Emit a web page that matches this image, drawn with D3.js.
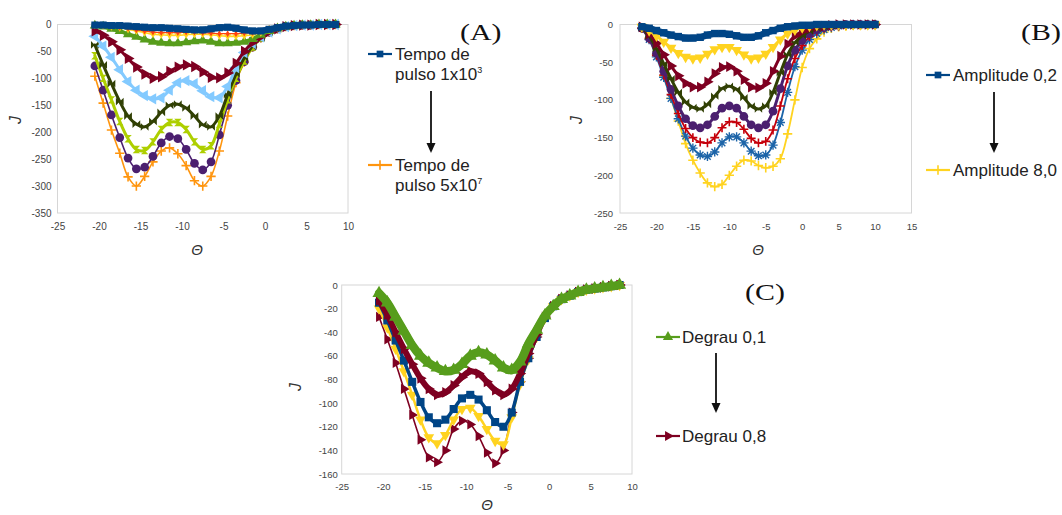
<!DOCTYPE html>
<html><head><meta charset="utf-8">
<script src="https://cdn.jsdelivr.net/npm/d3@7"></script>
<style>body{margin:0;background:#fff;} svg{display:block;}</style>
</head><body>
<svg id="c" width="1062" height="515"></svg>
<script>
// ---------------- DATA ----------------
// Panel A: x (Theta) values and J series
const thetaA = [-20.5,-19.5,-18.5,-17.5,-16.5,-15.5,-14.5,-13.5,-12.5,-11.5,-10.5,-9.5,-8.5,-7.5,-6.5,-5.5,-4.5,-3.5,-2.5,-1.5,-0.5,0.5,1.5,2.5,3.5,4.5,5.5,6.5,7.5,8.5];
const A_s1  = [-1,-1,-2,-2,-3,-4,-5,-6,-6,-7,-8,-9,-10,-10,-8,-6,-5,-7,-10,-12,-12,-9,-6,-3,-2,-1,-1,0,0,0];
const A_s2  = [-1,-2,-3,-5,-7,-10,-12,-14,-15,-15,-15,-14,-14,-15,-16,-17,-17,-17,-16,-15,-12,-8,-5,-3,-2,-1,-1,0,0,0];
const A_s3  = [-1,-2,-4,-6,-9,-12,-15,-18,-19,-20,-20,-19,-18,-18,-19,-21,-22,-22,-21,-19,-15,-10,-6,-3,-2,-1,-1,0,0,0];
const A_s4  = [-2,-4,-8,-12,-18,-23,-28,-32,-34,-35,-35,-33,-31,-30,-32,-35,-35,-34,-32,-27,-19,-12,-7,-4,-2,-1,-1,0,0,0];
const A_s5  = [-12,-20,-32,-47,-63,-79,-92,-100,-97,-87,-79,-75,-78,-88,-98,-99,-90,-72,-50,-33,-22,-13,-8,-4,-2,-1,-1,0,0,0];
const A_s6  = [-22,-40,-61,-84,-106,-122,-132,-138,-136,-122,-108,-104,-110,-123,-134,-136,-115,-80,-52,-35,-23,-14,-8,-4,-2,-1,-1,0,0,0];
const A_s7  = [-38,-75,-110,-143,-170,-185,-190,-180,-163,-150,-148,-155,-170,-186,-190,-170,-130,-92,-62,-40,-25,-14,-8,-4,-2,-1,-1,0,0,0];
const A_s8  = [-58,-100,-140,-180,-212,-232,-234,-218,-195,-182,-182,-195,-218,-232,-225,-185,-140,-100,-68,-42,-25,-14,-8,-4,-2,-1,-1,0,0,0];
const A_s9  = [-77,-122,-168,-210,-248,-268,-265,-245,-220,-208,-212,-232,-258,-270,-255,-205,-150,-104,-69,-42,-25,-14,-8,-4,-2,-1,-1,0,0,0];
const A_s10 = [-96,-146,-196,-239,-283,-300,-282,-255,-235,-229,-240,-262,-290,-300,-282,-235,-170,-108,-70,-42,-25,-14,-8,-4,-2,-1,-1,0,0,0];
const A_xTicks = [-25,-20,-15,-10,-5,0,5,10];
const A_yTicks = [0,-50,-100,-150,-200,-250,-300,-350];

// Panel B
const thetaB = [-22,-21,-20,-19,-18,-17,-16,-15,-14,-13,-12,-11,-10,-9,-8,-7,-6,-5,-4,-3,-2,-1,0,1,2,3,4,5,6,7,8,9,10];
const B_s1 = [-3,-5,-8,-11,-14,-16,-18,-18,-17,-14,-12,-12,-13,-15,-17,-17,-15,-11,-8,-5,-3,-2,-1,-1,0,0,0,0,0,0,0,0,0];
const B_s2 = [-3,-8,-15,-23,-31,-38,-43,-45,-44,-39,-33,-30,-30,-34,-40,-45,-44,-39,-30,-20,-12,-7,-4,-2,-1,0,0,0,0,0,0,0,0];
const B_s3 = [-3,-12,-25,-40,-55,-68,-78,-83,-83,-76,-65,-57,-56,-62,-73,-83,-84,-78,-62,-42,-26,-15,-9,-5,-3,-2,-1,0,0,0,0,0,0];
const B_s4 = [-4,-15,-32,-52,-72,-90,-103,-110,-112,-106,-95,-85,-82,-86,-97,-108,-112,-108,-90,-64,-40,-24,-15,-9,-5,-3,-2,-1,0,0,0,0,0];
const B_s5 = [-5,-18,-38,-62,-86,-108,-125,-134,-137,-133,-122,-111,-108,-111,-122,-133,-137,-133,-115,-85,-55,-34,-21,-12,-7,-4,-2,-1,0,0,0,0,0];
const B_s6 = [-5,-19,-41,-67,-93,-118,-138,-150,-156,-157,-150,-137,-129,-130,-139,-151,-157,-155,-140,-108,-72,-45,-28,-16,-9,-5,-3,-2,-1,0,0,0,0];
const B_s7 = [-5,-20,-43,-70,-98,-125,-148,-164,-173,-175,-169,-157,-149,-149,-157,-168,-174,-173,-160,-130,-90,-56,-34,-20,-12,-7,-4,-2,-1,0,0,0,0];
const B_s8 = [-5,-18,-40,-68,-98,-128,-158,-180,-197,-210,-215,-212,-200,-188,-180,-181,-187,-190,-188,-178,-145,-100,-57,-32,-19,-10,-5,-3,-2,-1,-1,0,0];
const B_xTicks = [-25,-20,-15,-10,-5,0,5,10,15];
const B_yTicks = [0,-50,-100,-150,-200,-250];

// Panel C
const thetaC = [-20.5,-19.5,-18.5,-17.5,-16.5,-15.5,-14.5,-13.5,-12.5,-11.5,-10.5,-9.5,-8.5,-7.5,-6.5,-5.5,-4.5,-3.5,-2.5,-1.5,-0.5,0.5,1.5,2.5,3.5,4.5,5.5,6.5,7.5,8.5];
const C_s1 = [-7,-15,-27,-39,-51,-60,-66,-70,-73,-72,-67,-60,-57,-59,-64,-70,-72,-65,-50,-38,-26,-18,-12,-9,-6,-4,-3,-2,-1,0];
const C_s2 = [-13,-25,-40,-54,-67,-79,-88,-93,-91,-85,-78,-73,-75,-82,-89,-93,-88,-75,-58,-42,-27,-18,-12,-9,-6,-4,-3,-2,-1,0];
const C_s3 = [-15,-30,-47,-64,-82,-99,-112,-117,-114,-105,-96,-93,-97,-106,-116,-120,-108,-82,-62,-44,-28,-18,-12,-9,-6,-4,-3,-2,-1,0];
const C_s4 = [-20,-36,-54,-73,-93,-114,-129,-134,-127,-114,-105,-104,-111,-122,-132,-135,-112,-84,-63,-44,-28,-18,-12,-9,-6,-4,-3,-2,-1,0];
const C_s5 = [-27,-46,-66,-88,-110,-131,-146,-150,-140,-122,-115,-118,-128,-142,-151,-140,-108,-82,-62,-44,-28,-18,-12,-9,-6,-4,-3,-2,-1,0];
const C_xTicks = [-25,-20,-15,-10,-5,0,5,10];
const C_yTicks = [0,-20,-40,-60,-80,-100,-120,-140,-160];

// Legend texts
const legendA = [["Tempo de","pulso 1x10","3"],["Tempo de","pulso 5x10","7"]];
const legendB = ["Amplitude 0,2","Amplitude 8,0"];
const legendC = ["Degrau 0,1","Degrau 0,8"];

// ---------------- DRAWING ----------------
const svg = d3.select('#c');

function rrect(c, r, w, ang){
  const ca=Math.cos(ang), sa=Math.sin(ang);
  const p=[[-r,-w],[r,-w],[r,w],[-r,w]].map(([x,y])=>[x*ca-y*sa,x*sa+y*ca]);
  c.moveTo(p[0][0],p[0][1]); for(let i=1;i<4;i++) c.lineTo(p[i][0],p[i][1]); c.closePath();
}
const symBowtie = {draw(c,s){const r=Math.sqrt(s)/2; c.moveTo(-r,-r); c.lineTo(0,0); c.lineTo(-r,r); c.closePath(); c.moveTo(r,-r); c.lineTo(0,0); c.lineTo(r,r); c.closePath();}};
const symHour = {draw(c,s){const r=Math.sqrt(s)/2; c.moveTo(-r,-r); c.lineTo(r,-r); c.lineTo(0,0); c.closePath(); c.moveTo(-r,r); c.lineTo(r,r); c.lineTo(0,0); c.closePath();}};
const symPlus = {draw(c,s){const r=Math.sqrt(s)*0.6, w=0.8; rrect(c,r,w,0); rrect(c,r,w,Math.PI/2);}};
const symStar = {draw(c,s){const r=Math.sqrt(s)*0.6, w=0.7; for(let k=0;k<4;k++) rrect(c,r,w,k*Math.PI/4);}};
const symX = {draw(c,s){const r=Math.sqrt(s)*0.6, w=0.8; rrect(c,r,w,Math.PI/4); rrect(c,r,w,-Math.PI/4);}};
const SYM = {
  square:{t:d3.symbolSquare,r:0}, diamond:{t:d3.symbolDiamond,r:0}, circle:{t:d3.symbolCircle,r:0},
  up:{t:d3.symbolTriangle,r:0}, down:{t:d3.symbolTriangle,r:180}, right:{t:d3.symbolTriangle,r:90}, left:{t:d3.symbolTriangle,r:-90},
  bowtie:{t:symBowtie,r:0}, hour:{t:symHour,r:0}, plus:{t:symPlus,r:0}, star:{t:symStar,r:0}, x:{t:symX,r:0}
};
function marker(g, type, x, y, size, color){
  const d = SYM[type];
  g.append('path').attr('d', d3.symbol(d.t, size)())
    .attr('transform', `translate(${x},${y}) rotate(${d.r})`).attr('fill', color);
}

const panels = [
  {box:{l:57.5,r:348,t:24.5,b:213}, xDom:[-25,10], yDom:[-350,0], xTicks:A_xTicks, yTicks:A_yTicks, theta:thetaA,
   fs:10, xPad:10, yPad:6, jPos:[21,120], thPos:[197,255],
   series:[
    {v:A_s10,c:'#ff950e',s:'plus',lw:1.6,z:60},
    {v:A_s9,c:'#4b1f6f',s:'circle',lw:1.6,z:60},
    {v:A_s8,c:'#aecf00',s:'hour',lw:3,z:55},
    {v:A_s7,c:'#314004',s:'bowtie',lw:3,z:60},
    {v:A_s6,c:'#83caff',s:'left',lw:3,z:55},
    {v:A_s5,c:'#7e0021',s:'right',lw:3,z:55},
    {v:A_s4,c:'#579d1c',s:'up',lw:4,z:45},
    {v:A_s3,c:'#ffd320',s:'down',lw:1.6,z:22},
    {v:A_s2,c:'#ff420e',s:'diamond',lw:1.2,z:14},
    {v:A_s1,c:'#004586',s:'square',lw:6.5,z:50}
   ]},
  {box:{l:620,r:911.5,t:24.5,b:213}, xDom:[-25,15], yDom:[-250,0], xTicks:B_xTicks, yTicks:B_yTicks, theta:thetaB,
   fs:9.5, xPad:10, yPad:7, jPos:[582,120], thPos:[758,255],
   series:[
    {v:B_s8,c:'#ffd320',s:'plus',lw:1.8,z:60},
    {v:B_s7,c:'#1c64a8',s:'star',lw:1.8,z:60},
    {v:B_s6,c:'#c5000b',s:'plus',lw:1.8,z:55},
    {v:B_s5,c:'#4b1f6f',s:'circle',lw:3,z:60},
    {v:B_s4,c:'#314004',s:'bowtie',lw:3,z:55},
    {v:B_s3,c:'#7e0021',s:'right',lw:3,z:50},
    {v:B_s2,c:'#ffd320',s:'down',lw:3,z:50},
    {v:B_s1,c:'#004586',s:'square',lw:6.5,z:55}
   ]},
  {box:{l:341.7,r:632,t:285,b:474}, xDom:[-25,10], yDom:[-160,0], xTicks:C_xTicks, yTicks:C_yTicks, theta:thetaC,
   fs:9.5, xPad:9, yPad:4, jPos:[301,387], thPos:[487,510],
   series:[
    {v:C_s5,c:'#7e0021',s:'right',lw:1.6,z:45},
    {v:C_s4,c:'#ffd320',s:'down',lw:2.5,z:50},
    {v:C_s3,c:'#004586',s:'square',lw:3.5,z:65},
    {v:C_s2,c:'#7e0021',s:'right',lw:6,z:50},
    {v:C_s1,c:'#579d1c',s:'up',lw:8.5,z:75}
   ]}
];

panels.forEach(p=>{
  const g = svg.append('g');
  const x = d3.scaleLinear().domain(p.xDom).range([p.box.l,p.box.r]);
  const y = d3.scaleLinear().domain(p.yDom).range([p.box.b,p.box.t]);
  g.append('rect').attr('x',p.box.l).attr('y',p.box.t).attr('width',p.box.r-p.box.l).attr('height',p.box.b-p.box.t)
    .attr('fill','none').attr('stroke','#d6d6d6').attr('stroke-width',1);
  const ax = g.append('g').attr('transform',`translate(0,${p.box.b})`)
    .call(d3.axisBottom(x).tickValues(p.xTicks).tickSize(0).tickPadding(p.xPad).tickFormat(d=>String(d)));
  const ay = g.append('g').attr('transform',`translate(${p.box.l},0)`)
    .call(d3.axisLeft(y).tickValues(p.yTicks).tickSize(0).tickPadding(p.yPad).tickFormat(d=>String(d)));
  [ax,ay].forEach(a=>{a.select('.domain').remove(); a.selectAll('text').attr('font-family','Liberation Sans, Arial, sans-serif').attr('font-size',p.fs).attr('fill','#444');});
  const line = d3.line().x((d,i)=>x(p.theta[i])).y(d=>y(d)).curve(d3.curveCatmullRom.alpha(0.5));
  p.series.forEach(s=>{
    g.append('path').attr('d',line(s.v)).attr('fill','none').attr('stroke',s.c).attr('stroke-width',s.lw)
      .attr('stroke-linejoin','round').attr('stroke-linecap','round');
    const mg = g.append('g');
    s.v.forEach((v,i)=>marker(mg,s.s,x(p.theta[i]),y(v),s.z,s.c));
  });
  g.append('text').attr('transform',`translate(${p.jPos[0]},${p.jPos[1]}) rotate(-90)`).attr('text-anchor','middle')
    .attr('font-family','Liberation Sans, Arial, sans-serif').attr('font-style','italic').attr('font-size',16).attr('fill','#333').text('J');
  g.append('text').attr('x',p.thPos[0]).attr('y',p.thPos[1]).attr('text-anchor','middle')
    .attr('font-family','Liberation Sans, Arial, sans-serif').attr('font-style','italic').attr('font-size',15).attr('fill','#333').text('Θ');
});

// ---------------- LEGENDS ----------------
const LF = 'Liberation Sans, Arial, sans-serif', LS = 17;
function legItem(x0, y0, color, sym, size){
  svg.append('line').attr('x1',x0-12).attr('x2',x0+12).attr('y1',y0).attr('y2',y0).attr('stroke',color).attr('stroke-width',2.2);
  marker(svg, sym, x0, y0, size, color);
}
function arrow(x, y1, y2){
  svg.append('line').attr('x1',x).attr('x2',x).attr('y1',y1).attr('y2',y2-8).attr('stroke','#111').attr('stroke-width',1.8);
  svg.append('path').attr('d',`M${x-4.5},${y2-10}L${x+4.5},${y2-10}L${x},${y2}Z`).attr('fill','#111');
}
function ltext(x,y,str,sup){
  const t = svg.append('text').attr('x',x).attr('y',y).attr('font-family',LF).attr('font-size',LS).attr('fill','#222').text(str);
  if(sup) t.append('tspan').attr('dy',-7).attr('font-size',9).text(sup);
}
function panelLabel(x,y,str){
  svg.append('text').attr('transform',`translate(${x},${y}) scale(1.3,1)`).attr('font-family','Liberation Serif, Times New Roman, serif')
    .attr('font-size',23).attr('fill','#111').text(str);
}
// A
legItem(380,54,'#004586','square',45);
ltext(395,60,legendA[0][0]); ltext(395,80,legendA[0][1],legendA[0][2]);
arrow(431,91,153);
legItem(380,165,'#ff950e','plus',60);
ltext(395,171,legendA[1][0]); ltext(395,191,legendA[1][1],legendA[1][2]);
panelLabel(460,40,'(A)');
// B
legItem(938,75,'#004586','square',45);
ltext(953,81,legendB[0]);
arrow(994,92,153);
legItem(938,170,'#ffd320','plus',60);
ltext(953,176,legendB[1]);
panelLabel(1021,40,'(B)');
// C
legItem(668,337,'#579d1c','up',45);
ltext(682,343,legendC[0]);
arrow(716,353,413);
legItem(668,436,'#7e0021','right',45);
ltext(682,442,legendC[1]);
panelLabel(745,300,'(C)');
</script>
</body></html>
